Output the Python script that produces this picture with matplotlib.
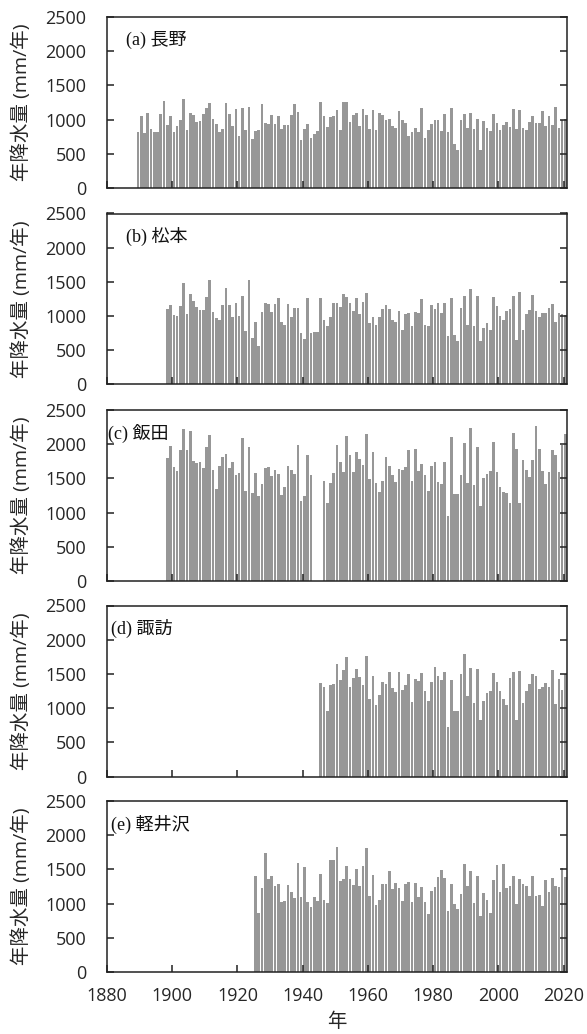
import matplotlib
matplotlib.use('Agg')
import matplotlib.pyplot as plt
import numpy as np

plt.rcParams['font.family'] = ['Open Sans', 'Noto Sans CJK JP', 'DejaVu Sans']
plt.rcParams['ytick.major.pad'] = 15
plt.rcParams['xtick.major.pad'] = 11

station_labels = ['(a) 長野', '(b) 松本', '(c) 飯田', '(d) 諏訪', '(e) 軽井沢']
y_label = '年降水量 (mm/年)'
x_label = '年'
x_ticks = [1880, 1900, 1920, 1940, 1960, 1980, 2000, 2020]
y_ticks = [0, 500, 1000, 1500, 2000, 2500]

# (a) Nagano, 1889-2020
nagano_start = 1889
nagano = [823, 1058, 808, 1102, 867, 823, 818, 1078, 1274, 921,
          1058, 823, 902, 1000, 1294, 848, 1102, 1073, 970, 980,
          1088, 1171, 1245, 1014, 941, 818, 867, 1245, 1078, 902,
          1161, 764, 1171, 843, 1191, 720, 828, 843, 1230, 946,
          931, 1063, 941, 1049, 858, 916, 926, 1068, 1235, 1112,
          706, 867, 931, 725, 794, 838, 1259, 1054, 897,
          1039, 1049, 1137, 848, 1264, 1264, 970, 1073, 1098, 907,
          1151, 1073, 858, 1147, 853, 1098, 1068, 1000, 1009, 911,
          882, 1132, 1000, 946, 755, 823, 877, 813, 1176, 730,
          853, 941, 990, 1000, 833, 1083, 813, 1171, 637, 549,
          1000, 1078, 872, 1098, 862, 1009, 549, 975, 882, 838,
          1088, 951, 843, 921, 970, 887, 1161, 867, 1147, 882,
          843, 970, 1054, 956, 956, 1132, 902, 1054, 921, 1186,
          882, 1000, 1005]

# (b) Matsumoto, 1898-2020
matsumoto_start = 1898
matsumoto = [1098, 1166, 1014, 1000, 1147, 1490, 1029, 1328, 1225, 1132,
             1088, 1088, 1279, 1529, 1054, 965, 941, 1166, 1411, 1166,
             980, 1196, 1005, 1294, 779, 1534, 681, 921, 568, 1054,
             1186, 1176, 1058, 1176, 1269, 921, 867, 1176, 980, 1117,
             1117, 755, 666, 1269, 760, 774, 774, 1264, 936, 862,
             980, 1186, 1186, 1132, 1318, 1284, 1196, 1068, 1269, 1029,
             1210, 1338, 892, 980, 872, 980, 1107, 1156, 1098, 941,
             911, 1068, 794, 1034, 1039, 853, 1063, 1044, 1245, 872,
             848, 1156, 1107, 1186, 1049, 1186, 715, 1264, 730, 632,
             1117, 1294, 877, 1401, 853, 1294, 637, 833, 902, 804,
             1284, 1147, 1000, 936, 1073, 1103, 1294, 647, 1357, 794,
             1034, 1088, 1308, 1068, 980, 1039, 1039, 1112, 1181, 911,
             1049, 1029, 1010]

# (c) Iida, 1898-2020 (no data 1943-1945)
iida_start = 1898
iida = [1804, 1969, 1664, 1605, 1920, 2216, 1911, 2197, 1751, 1727,
        1741, 1654, 1959, 2129, 1630, 1343, 1678, 1819, 1862, 1659,
        1741, 1557, 1581, 2090, 1319, 1964, 1285, 1586, 1237, 1421,
        1659, 1668, 1533, 1630, 1571, 1261, 1368, 1678, 1625, 1571,
        1993, 1169, 1242, 1848, 1547, None, None, None, 1460, 1147,
        1440, 1586, 1993, 1741, 1596, 2119, 1838, 1596, 1887, 1780,
        1693, 2144, 1489, 1891, 1436, 1295, 1460, 1809, 1678, 1557,
        1450, 1644, 1620, 1673, 1920, 1460, 1935, 1605, 1707, 1557,
        1319, 1688, 1746, 1445, 1416, 1741, 946, 2100, 1271, 1271,
        1557, 2013, 1440, 2241, 1402, 1955, 1091, 1499, 1562, 1605,
        2027, 1591, 1373, 1305, 1290, 1145, 2163, 1935, 1145, 1765,
        1620, 1523, 1770, 2260, 1935, 1605, 1411, 1596, 1920, 1838,
        1591, 1993, 2144]

# (d) Suwa, 1945-2020
suwa_start = 1945
suwa = [1372, 1313, 960,
        1337, 1352, 1645, 1405, 1552, 1752, 1303, 1435, 1566, 1454,
        1337, 1762, 1137, 1469, 1044, 1191, 1381, 1352, 1527, 1288,
        1240, 1527, 1264, 1342, 1498, 1083, 1420, 1396, 1508, 1244,
        1098, 1381, 1596, 1474, 1410, 1523, 717, 1405, 961, 961,
        1493, 1791, 1176, 1586, 1074, 1571, 820, 1108, 1215, 1249,
        1518, 1376, 1249, 1132, 1039, 1435, 1532, 825, 1542, 1078,
        1254, 1352, 1503, 1469, 1279, 1303, 1362, 1303, 1557, 1059,
        1425, 1264, 1500]

# (e) Karuizawa, 1925-2020
karuizawa_start = 1925
karuizawa = [1403, 867, 1227, 1734, 1359, 1403, 1256, 1291, 1023, 1042,
             1271, 1174, 1086, 1588, 1091, 1529, 1028, 950, 1096, 1042,
             1432, 1052, 1003, 1636, 1636, 1831, 1334,
             1359, 1544, 1359, 1271, 1505, 1256, 1544, 1812, 1110, 1412,
             979, 1052, 1291, 1286, 1480, 1208, 1305, 1222, 1037, 1291,
             1320, 1018, 1300, 1096, 1242, 1018, 847, 1179, 1247, 1383,
             1485, 1368, 891, 1291, 989, 920, 1144, 1583, 1261, 1480,
             1003, 1407, 813, 1149, 1057, 862, 1344, 1563, 1174, 1573,
             1232, 1252, 1407, 994, 1364, 1291, 1256, 1110, 1407, 1115,
             1125, 959, 1339, 1174, 1368, 1252, 1237, 1524, 1388]

series = [(nagano_start, nagano), (matsumoto_start, matsumoto),
          (iida_start, iida), (suwa_start, suwa),
          (karuizawa_start, karuizawa)]

W, H = 587, 1034
fig = plt.figure(figsize=(W / 100, H / 100), dpi=100)
left_px, right_px = 107, 567
tops_px = [17, 213.5, 410, 605.5, 801]
height_px = 171
label_x_px = [126, 126, 108, 111, 111]

bar_color = '#979797'
axis_color = '#222222'
text_color = '#262626'

for i, ((start, vals), lab) in enumerate(zip(series, station_labels)):
    ax = fig.add_axes([left_px / W, 1 - (tops_px[i] + height_px) / H,
                       (right_px - left_px) / W, height_px / H])
    yrs = np.arange(start, start + len(vals))
    v = np.array([np.nan if x is None else x for x in vals], dtype=float)
    ok = ~np.isnan(v)
    ax.bar(yrs[ok] + 0.5, v[ok], width=0.82, color=bar_color, linewidth=0)
    ax.set_xlim(1880, 2021)
    ax.set_ylim(0, 2500)
    ax.set_xticks(x_ticks)
    ax.set_yticks(y_ticks)
    for s in ax.spines.values():
        s.set_color(axis_color)
        s.set_linewidth(1.1)
    ax.tick_params(axis='both', direction='in', length=5, width=1.1,
                   colors=axis_color, labelcolor=text_color, labelsize=13)
    ax.tick_params(axis='y', right=True)
    if i < 4:
        ax.tick_params(axis='x', labelbottom=False)
    ax.set_ylabel(y_label, fontsize=14, color=text_color)
    ax.yaxis.set_label_coords(-0.166, 0.5)
    ax.text((label_x_px[i] - left_px) / (right_px - left_px), 1 - 23 / height_px,
            lab, transform=ax.transAxes, va='center', ha='left',
            fontsize=13, color='#111111',
            family=['Liberation Serif', 'Noto Sans CJK JP'])

fig.text((left_px + right_px) / 2 / W, 1 - 1022 / H, x_label,
         ha='center', va='center', fontsize=14, color=text_color)

fig.savefig('out.png', dpi=100)
